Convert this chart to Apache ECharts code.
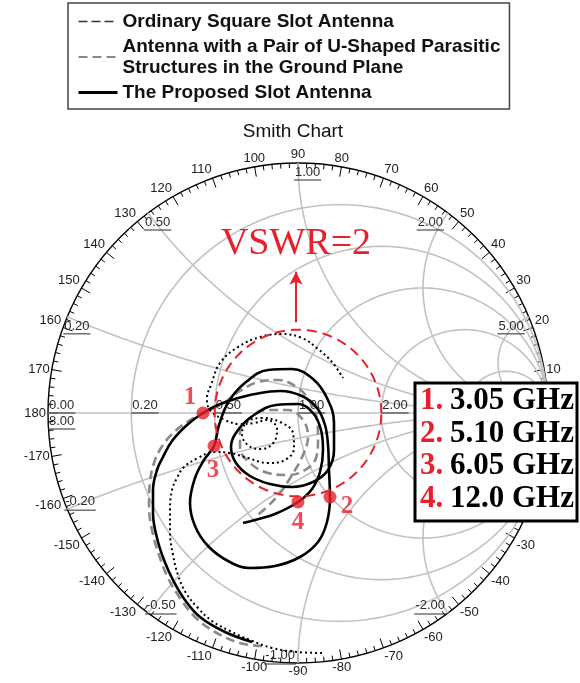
<!DOCTYPE html>
<html>
<head>
<meta charset="utf-8">
<script src="https://cdn.jsdelivr.net/npm/echarts@6/dist/echarts.min.js"></script>
<style>
  html, body { margin: 0; padding: 0; background: #fff; }
  #chart { width: 580px; height: 683px; }
</style>
</head>
<body>
<div id="chart"></div>
<script>
// Reflection coefficient traces, [real, imaginary], low to high frequency
const ordinarySlot = [
  [0.096, -0.960], [-0.004, -0.956], [-0.104, -0.940], [-0.192, -0.908], [-0.272, -0.872],
  [-0.344, -0.832], [-0.400, -0.780], [-0.448, -0.720], [-0.480, -0.648], [-0.500, -0.568],
  [-0.512, -0.476], [-0.512, -0.388], [-0.504, -0.308], [-0.484, -0.260], [-0.456, -0.216],
  [-0.400, -0.180], [-0.336, -0.156], [-0.272, -0.160], [-0.200, -0.180], [-0.120, -0.200],
  [-0.052, -0.188], [-0.016, -0.140], [-0.020, -0.080], [-0.072, -0.036], [-0.144, -0.020],
  [-0.204, -0.036], [-0.224, -0.084], [-0.196, -0.132], [-0.144, -0.144], [-0.096, -0.116],
  [-0.084, -0.064], [-0.124, -0.028], [-0.176, -0.040], [-0.232, -0.044], [-0.292, -0.028],
  [-0.352, 0.012], [-0.364, 0.060], [-0.348, 0.112], [-0.312, 0.200], [-0.240, 0.264],
  [-0.152, 0.304], [-0.064, 0.316], [0.016, 0.300], [0.080, 0.256], [0.136, 0.204],
  [0.180, 0.140]
];
const uShapedSlot = [
  [-0.144, -0.932], [-0.232, -0.920], [-0.332, -0.876], [-0.412, -0.816], [-0.472, -0.740],
  [-0.520, -0.660], [-0.556, -0.568], [-0.584, -0.468], [-0.596, -0.368], [-0.592, -0.276],
  [-0.576, -0.200], [-0.548, -0.140], [-0.504, -0.084], [-0.444, -0.036], [-0.372, 0.004],
  [-0.304, 0.036], [-0.232, 0.088], [-0.160, 0.124], [-0.080, 0.132], [0.000, 0.100],
  [0.048, 0.044], [0.076, -0.028], [0.080, -0.108], [0.072, -0.180], [0.028, -0.228],
  [-0.040, -0.248], [-0.120, -0.240], [-0.192, -0.200], [-0.232, -0.140], [-0.232, -0.076],
  [-0.192, -0.020], [-0.120, 0.012], [-0.040, 0.012], [0.020, -0.028], [0.040, -0.096],
  [0.020, -0.168], [-0.024, -0.248], [-0.072, -0.320], [-0.124, -0.376], [-0.172, -0.416]
];
const proposedSlot = [
  [-0.184, -0.916], [-0.292, -0.876], [-0.392, -0.816], [-0.452, -0.748], [-0.500, -0.668],
  [-0.536, -0.588], [-0.564, -0.500], [-0.580, -0.400], [-0.580, -0.308], [-0.564, -0.228],
  [-0.540, -0.176], [-0.504, -0.112], [-0.444, -0.048], [-0.380, 0.000], [-0.320, 0.032],
  [-0.252, 0.056], [-0.172, 0.076], [-0.072, 0.088], [0.016, 0.068], [0.076, 0.020],
  [0.108, -0.048], [0.120, -0.128], [0.124, -0.228], [0.128, -0.336], [0.116, -0.436],
  [0.080, -0.516], [0.008, -0.576], [-0.092, -0.612], [-0.192, -0.620], [-0.280, -0.592],
  [-0.360, -0.532], [-0.412, -0.452], [-0.432, -0.360], [-0.412, -0.260], [-0.376, -0.188],
  [-0.336, -0.132], [-0.316, -0.048], [-0.276, 0.048], [-0.208, 0.124], [-0.120, 0.172],
  [-0.024, 0.176], [0.060, 0.136], [0.116, 0.060], [0.144, -0.040], [0.144, -0.148],
  [0.120, -0.228], [0.060, -0.276], [-0.024, -0.296], [-0.112, -0.284], [-0.192, -0.252],
  [-0.248, -0.200], [-0.268, -0.136], [-0.240, -0.068], [-0.176, -0.008], [-0.088, 0.032],
  [0.000, 0.036], [0.060, 0.000], [0.092, -0.068], [0.100, -0.148], [0.088, -0.236],
  [0.056, -0.304], [0.000, -0.356], [-0.092, -0.404], [-0.172, -0.428], [-0.220, -0.440]
];

// Frequency markers on the proposed antenna trace
const markerNames = ['1', '2', '3', '4'];
const markerFreqs = ['3.05 GHz', '5.10 GHz', '6.05 GHz', '12.0 GHz'];
const markerPoints = [[-0.380, 0.000], [0.128, -0.336], [-0.336, -0.132], [0.000, -0.356]];

// Smith chart grid values
const resistanceValues = [0.2, 0.5, 1, 2, 5];
const reactanceValues = [0.2, 0.5, 1, 2, 5];
const vswrTarget = 2;

const seriesNames = [
  'Ordinary Square Slot Antenna',
  'Antenna with a Pair of U-Shaped Parasitic\nStructures in the Ground Plane',
  'The Proposed Slot Antenna'
];

// ---- layout ----
const CX = 298, CY = 413, R = 250, W = 580, H = 683;
const RED = '#e8202a';
const GRID_GREY = '#c2c2c2';
const SANS = '"Liberation Sans", Arial, sans-serif';
const SERIF = '"Liberation Serif", "Times New Roman", serif';

// normalized impedance z = r + jx  ->  reflection coefficient
function gammaOf(r, x) {
  const den = (r + 1) * (r + 1) + x * x;
  return [(r * r + x * x - 1) / den, (2 * x) / den];
}

const gridSeries = [];
function gridLine(points) {
  gridSeries.push({
    type: 'line', data: points, showSymbol: false, symbol: 'none', silent: true,
    lineStyle: { color: GRID_GREY, width: 1.6 }, z: 1, animation: false
  });
}
// real axis
gridLine([[-1, 0], [1, 0]]);
// constant resistance circles
resistanceValues.forEach(r => {
  const c = r / (1 + r), rad = 1 / (1 + r), pts = [];
  for (let i = 0; i <= 240; i++) {
    const t = (i / 240) * 2 * Math.PI;
    pts.push([c + rad * Math.cos(t), rad * Math.sin(t)]);
  }
  gridLine(pts);
});
// constant reactance arcs
reactanceValues.forEach(x => {
  [x, -x].forEach(xx => {
    const pts = [];
    for (let i = 0; i <= 300; i++) {
      const s = Math.min(i / 300, 0.9995);
      pts.push(gammaOf(s / (1 - s), xx));
    }
    pts.push([1, 0]);
    gridLine(pts);
  });
});

// grid value labels (underlined)
const fmt = v => v.toFixed(2);
const labelItems = [];
resistanceValues.forEach(r => labelItems.push({ g: gammaOf(r, 0), text: fmt(r), place: 'axis', align: 'left' }));
labelItems.push({ g: [-1, 0], text: '0.00', place: 'axis', align: 'left' });
labelItems.push({ g: [-1, 0], text: '8.00', place: 'axisBelow', align: 'left' });
reactanceValues.forEach(x => {
  labelItems.push({ g: gammaOf(0, x), text: fmt(x), place: 'upper', align: x <= 1 ? 'left' : 'right' });
  labelItems.push({ g: gammaOf(0, -x), text: '-' + fmt(x), place: 'lower', align: x < 1 ? 'left' : 'right' });
});

const measureCtx = document.createElement('canvas').getContext('2d');
const LABEL_FONT = '13px ' + SANS;
measureCtx.font = LABEL_FONT;

function renderGridLabel(params, api) {
  const item = labelItems[params.dataIndex];
  const p = api.coord([api.value(0), api.value(1)]);
  const w = measureCtx.measureText(item.text).width;
  let left, bottom, lineY;
  if (item.place === 'axis') { left = p[0] + 1; bottom = p[1] - 1; lineY = p[1]; }
  else if (item.place === 'axisBelow') { left = p[0] + 1; bottom = p[1] + 15; lineY = p[1] + 16; }
  else if (item.place === 'upper') {
    left = item.align === 'left' ? p[0] - 3 : p[0] - 5 - w;
    bottom = p[1] + 16; lineY = p[1] + 17;
  } else {
    left = item.align === 'left' ? p[0] - 2 : p[0] - 3 - w;
    bottom = p[1] - 1; lineY = p[1] + 1;
  }
  return {
    type: 'group',
    children: [
      { type: 'text', x: left, y: bottom,
        style: { text: item.text, fill: '#2a2a2a', font: LABEL_FONT, align: 'left', verticalAlign: 'bottom' } },
      { type: 'line', shape: { x1: left - 1, y1: lineY, x2: left + w + 1, y2: lineY },
        style: { stroke: '#2a2a2a', lineWidth: 1 } }
    ]
  };
}

// VSWR circle
const rho = (vswrTarget - 1) / (vswrTarget + 1);
const vswrCircle = [];
for (let i = 0; i <= 200; i++) {
  const t = (i / 200) * 2 * Math.PI;
  vswrCircle.push([rho * Math.cos(t), rho * Math.sin(t)]);
}

const markerLabelOffsets = [[-13, -15], [17, 10], [-1, 25], [0, 21]];

const chart = echarts.init(document.getElementById('chart'), null, { renderer: 'canvas' });

const freqBox = [
  { type: 'rect', z: 100, shape: { x: 415, y: 383, width: 162, height: 138 },
    style: { fill: '#fff', stroke: '#000', lineWidth: 3 } }
];
markerFreqs.forEach((f, i) => {
  freqBox.push({ type: 'text', z: 101, x: 420, y: 401 + i * 32.7,
    style: { text: markerNames[i] + '.', fill: RED, align: 'left', verticalAlign: 'middle',
             font: 'bold 31px ' + SERIF } });
  freqBox.push({ type: 'text', z: 101, x: 450, y: 401 + i * 32.7,
    style: { text: f, fill: '#000', align: 'left', verticalAlign: 'middle',
             font: 'bold 31px ' + SERIF } });
});

const option = {
  animation: false,
  backgroundColor: '#fff',
  title: {
    text: 'Smith Chart', left: 288, top: 117, textAlign: 'center',
    textStyle: { fontFamily: SANS, fontSize: 19, fontWeight: 'normal', color: '#111' }
  },
  legend: {
    orient: 'vertical', left: 68, top: 3,
    padding: [8, 9, 6, 9], itemGap: 4, itemWidth: 39, itemHeight: 12,
    borderColor: '#444', borderWidth: 1.5, backgroundColor: '#fff',
    selectedMode: false,
    itemStyle: { opacity: 0 },
    textStyle: { fontFamily: SANS, fontWeight: 'bold', fontSize: 19, color: '#111', lineHeight: 21 },
    data: [
      { name: seriesNames[0], lineStyle: { type: [9, 4], width: 1.5, color: '#333', opacity: 1 } },
      { name: seriesNames[1], lineStyle: { opacity: 1 } },
      { name: seriesNames[2], lineStyle: { opacity: 1, width: 3 } }
    ]
  },
  grid: { left: 0, top: 0, width: W, height: H, show: false },
  xAxis: { type: 'value', min: -CX / R, max: (W - CX) / R, show: false },
  yAxis: { type: 'value', min: -(H - CY) / R, max: CY / R, show: false },
  polar: { center: [CX, CY], radius: R },
  angleAxis: {
    type: 'value', min: 0, max: 360, interval: 10, startAngle: 0, clockwise: false,
    axisLine: { lineStyle: { color: '#000', width: 1.4 } },
    axisTick: { show: true, inside: true, length: 10, lineStyle: { color: '#000', width: 1 } },
    minorTick: { show: true, splitNumber: 5, length: 5, lineStyle: { color: '#000', width: 1 } },
    splitLine: { show: false },
    axisLabel: {
      margin: 2, fontSize: 13, color: '#222', fontFamily: SANS,
      formatter: v => (v === 0 || v === 360 ? '' : v > 180 ? String(v - 360) : String(v))
    }
  },
  radiusAxis: { min: 0, max: 1, show: false, splitLine: { show: false }, axisLine: { show: false } },
  series: [
    ...gridSeries,
    {
      type: 'custom', coordinateSystem: 'cartesian2d', silent: true, clip: false, z: 2,
      renderItem: renderGridLabel, data: labelItems.map(d => d.g)
    },
    {
      name: seriesNames[1], type: 'line', data: uShapedSlot, smooth: 0.4, symbol: 'none', z: 5,
      lineStyle: { color: '#8a8a8a', width: 2.6, type: [9, 5] }, itemStyle: { color: '#8a8a8a' }
    },
    {
      name: seriesNames[0], type: 'line', data: ordinarySlot, smooth: 0.4, symbol: 'none', z: 6,
      lineStyle: { color: '#000', width: 2, type: [2, 3] }, itemStyle: { color: '#000' }
    },
    {
      name: seriesNames[2], type: 'line', data: proposedSlot, smooth: 0.4, symbol: 'none', z: 7,
      lineStyle: { color: '#000', width: 2.6 }, itemStyle: { color: '#000' }
    },
    {
      type: 'line', data: vswrCircle, symbol: 'none', silent: true, z: 8,
      lineStyle: { color: RED, width: 2, type: [10, 6] },
      markLine: {
        silent: true, symbol: ['none', 'arrow'], symbolSize: [10, 13],
        lineStyle: { color: RED, width: 2, type: 'solid' }, label: { show: false },
        data: [[{ coord: [-0.008, rho + 0.03] }, { coord: [-0.008, 0.565] }]]
      }
    },
    {
      type: 'scatter', z: 9, symbolSize: 13, itemStyle: { color: RED }, silent: true,
      data: markerPoints.map((p, i) => ({
        value: p,
        label: {
          show: true, position: 'inside', offset: markerLabelOffsets[i], formatter: markerNames[i],
          color: RED, fontFamily: SERIF, fontWeight: 'bold', fontSize: 25
        }
      }))
    }
  ],
  graphic: [
    { type: 'text', z: 50, x: 296, y: 244,
      style: { text: 'VSWR=2', fill: RED, align: 'center', verticalAlign: 'middle', font: '38px ' + SERIF } },
    ...freqBox
  ]
};

chart.setOption(option);
</script>
</body>
</html>
